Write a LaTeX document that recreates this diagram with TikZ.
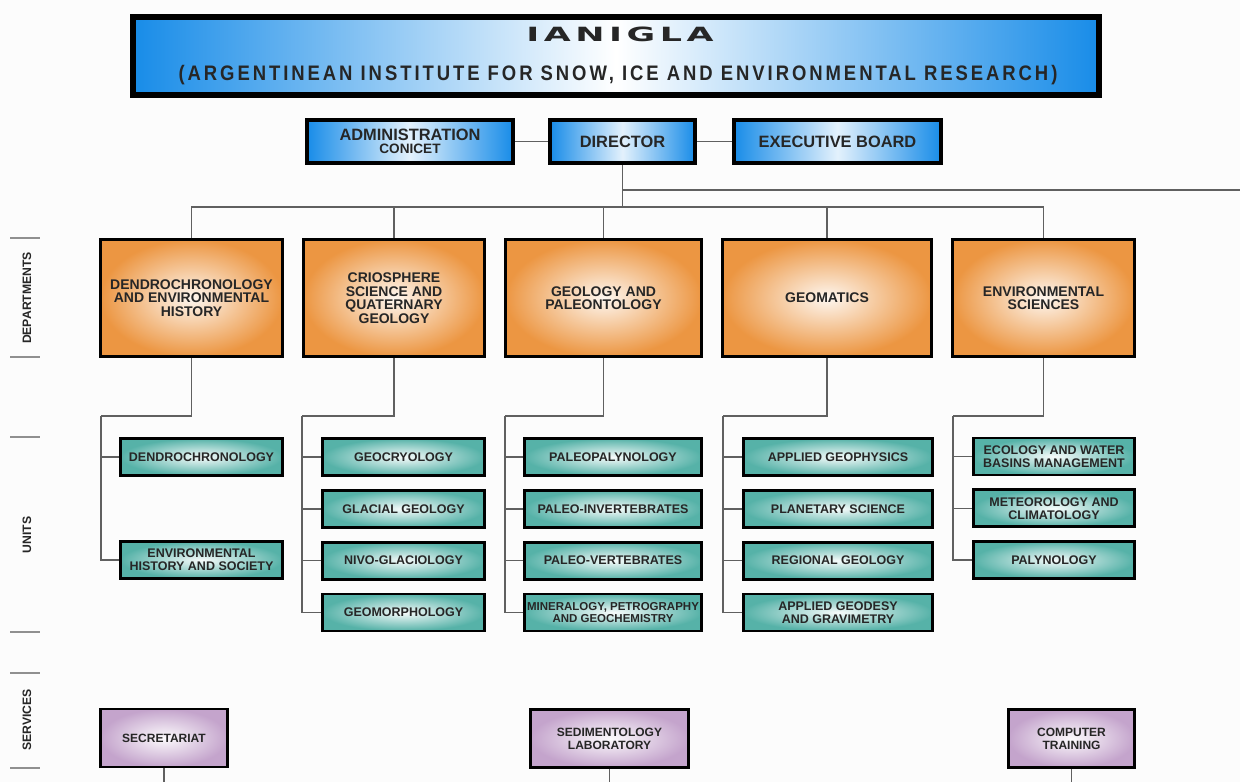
\documentclass[tikz,border=0pt]{standalone}
\usepackage{fontspec}
\setmainfont{Liberation Sans}
\newfontfamily\ianiglafont{DejaVu Sans}[LetterSpace=13]
\newfontfamily\subtitlefont{Liberation Sans}[FakeStretch=0.88,LetterSpace=14]
\usepackage{tikz}
\usetikzlibrary{positioning}

\definecolor{ianblue}{RGB}{24,140,232}
\definecolor{deptorange}{RGB}{236,150,66}
\definecolor{unitteal}{RGB}{86,178,168}
\definecolor{servlilac}{RGB}{196,164,204}
\definecolor{connline}{RGB}{96,96,96}
\definecolor{bgpaper}{RGB}{252,252,252}

\begin{document}
\begin{tikzpicture}[x=0.5pt,y=-0.5pt,
  every node/.style={text=black!85},
  topbox/.style={draw=black,line width=2pt,left color=ianblue,right color=ianblue,middle color=white!88!ianblue,
    minimum height=21.5pt,inner sep=0pt,align=center,font=\bfseries\fontsize{8.2}{8.2}\selectfont},
  dept/.style={draw=black,line width=1.5pt,inner color=white!92!deptorange,outer color=deptorange,
    minimum height=58.5pt,inner sep=0pt,align=center,font=\bfseries\fontsize{7}{6.8}\selectfont},
  unit/.style={draw=black,line width=1.4pt,inner color=white!95!unitteal,outer color=unitteal,
    minimum height=18.5pt,inner sep=0pt,align=center,font=\bfseries\fontsize{6.25}{6.5}\selectfont},
  serv/.style={draw=black,line width=1.4pt,inner color=white!95!servlilac,outer color=servlilac,
    minimum height=29pt,inner sep=0pt,align=center,font=\bfseries\fontsize{6}{6.5}\selectfont},
  conn/.style={draw=connline,line width=0.8pt},
  side/.style={rotate=90,font=\bfseries\fontsize{6.1}{6.1}\selectfont},
  tick/.style={draw=connline!70,line width=1pt}]

\fill[bgpaper] (0,0) rectangle (1240,782);
\useasboundingbox (0,0) rectangle (1240,782);

\node[draw=black,line width=3pt,left color=ianblue,right color=ianblue,middle color=white,
  minimum width=483pt,minimum height=39pt,inner sep=0pt] (banner) at (616,56) {};
\node[anchor=base] (bannername) at (620,41) {\scalebox{1.78}[1]{\ianiglafont\bfseries\fontsize{9.8}{9.8}\selectfont IANIGLA}};
\node[anchor=base] (bannerfull) at (618,80) {\subtitlefont\bfseries\fontsize{10.5}{10.5}\selectfont (ARGENTINEAN INSTITUTE FOR SNOW, ICE AND ENVIRONMENTAL RESEARCH)};

\node[topbox,minimum width=72.5pt] (dir) at (622.5,141.5) {DIRECTOR};
\node[topbox,minimum width=103pt] (adm) at (410,141.5) {ADMINISTRATION\\[-1.5pt]{\fontsize{6.8}{6.8}\selectfont CONICET}};
\node[topbox,minimum width=103.5pt] (exe) at (837.5,141.5) {EXECUTIVE BOARD};
\draw[conn] (adm) -- (dir);
\draw[conn] (dir) -- (exe);

\node[dept,minimum width=91pt] (d1) at (191.5,298) {DENDROCHRONOLOGY\\AND ENVIRONMENTAL\\HISTORY};
\node[dept,minimum width=90.5pt,right=9pt of d1] (d2) {CRIOSPHERE\\SCIENCE AND\\QUATERNARY\\GEOLOGY};
\node[dept,minimum width=98pt,right=9pt of d2] (d3) {GEOLOGY AND\\PALEONTOLOGY};
\node[dept,minimum width=104.5pt,right=9pt of d3] (d4) {GEOMATICS};
\node[dept,minimum width=91pt,right=9pt of d4] (d5) {ENVIRONMENTAL\\SCIENCES};

\coordinate (hub) at (622.5,207);
\coordinate (rim) at (1240,190);
\draw[conn] (dir.south) -- (hub);
\draw[conn] (dir.south |- rim) -- (rim);
\foreach \d in {d1,d2,d3,d4,d5}
  \draw[conn] (hub) -| (\d.north);

\node[unit,minimum width=81pt] (u11) at (201.5,457) {DENDROCHRONOLOGY};
\node[unit,minimum width=81pt,below=31.6pt of u11] (u12) {ENVIRONMENTAL\\HISTORY AND SOCIETY};

\node[unit,minimum width=81pt] (u21) at (403.5,457) {GEOCRYOLOGY};
\node[unit,minimum width=81pt,below=6pt of u21] (u22) {GLACIAL GEOLOGY};
\node[unit,minimum width=81pt,below=6pt of u22] (u23) {NIVO-GLACIOLOGY};
\node[unit,minimum width=81pt,below=6pt of u23] (u24) {GEOMORPHOLOGY};

\node[unit,minimum width=88.5pt] (u31) at (613,457) {PALEOPALYNOLOGY};
\node[unit,minimum width=88.5pt,below=6pt of u31] (u32) {PALEO-INVERTEBRATES};
\node[unit,minimum width=88.5pt,below=6pt of u32] (u33) {PALEO-VERTEBRATES};
\node[unit,minimum width=88.5pt,below=6pt of u33,font=\bfseries\fontsize{5.75}{6.3}\selectfont] (u34) {MINERALOGY, PETROGRAPHY\\AND GEOCHEMISTRY};

\node[unit,minimum width=94.5pt] (u41) at (838,457) {APPLIED GEOPHYSICS};
\node[unit,minimum width=94.5pt,below=6pt of u41] (u42) {PLANETARY SCIENCE};
\node[unit,minimum width=94.5pt,below=6pt of u42] (u43) {REGIONAL GEOLOGY};
\node[unit,minimum width=94.5pt,below=6pt of u43] (u44) {APPLIED GEODESY\\AND GRAVIMETRY};

\node[unit,minimum width=80.5pt] (u51) at (1054,456.5) {ECOLOGY AND WATER\\BASINS MANAGEMENT};
\node[unit,minimum width=80.5pt,below=6pt of u51] (u52) {METEOROLOGY AND\\CLIMATOLOGY};
\node[unit,minimum width=80.5pt,below=6pt of u52] (u53) {PALYNOLOGY};

\coordinate (b1) at (101,416);
\coordinate (b2) at (302,416);
\coordinate (b3) at (505,416);
\coordinate (b4) at (723,416);
\coordinate (b5) at (953,416);
\draw[conn] (d1.south) |- (b1);
\draw[conn] (d2.south) |- (b2);
\draw[conn] (d3.south) |- (b3);
\draw[conn] (d4.south) |- (b4);
\draw[conn] (d5.south) |- (b5);
\foreach \u in {u11,u12} \draw[conn] (b1) |- (\u.west);
\foreach \u in {u21,u22,u23,u24} \draw[conn] (b2) |- (\u.west);
\foreach \u in {u31,u32,u33,u34} \draw[conn] (b3) |- (\u.west);
\foreach \u in {u41,u42,u43,u44} \draw[conn] (b4) |- (\u.west);
\foreach \u in {u51,u52,u53} \draw[conn] (b5) |- (\u.west);

\node[serv,minimum width=63.5pt] (s1) at (164,738) {SECRETARIAT};
\node[serv,minimum width=79pt] (s2) at (609.5,738.5) {SEDIMENTOLOGY\\LABORATORY};
\node[serv,minimum width=63pt] (s3) at (1071.5,738.5) {COMPUTER\\TRAINING};
\coordinate (foot) at (0,782);
\foreach \s in {s1,s2,s3}
  \draw[conn] (\s.south) -- (\s.south |- foot);

\foreach \y in {238,357,437,632,673,768}
  \draw[tick] (10,\y) -- (40,\y);
\node[side] (lbdept) at (27,298) {DEPARTMENTS};
\node[side] (lbunit) at (27,535) {UNITS};
\node[side] (lbserv) at (27,720) {SERVICES};
\end{tikzpicture}
\end{document}
